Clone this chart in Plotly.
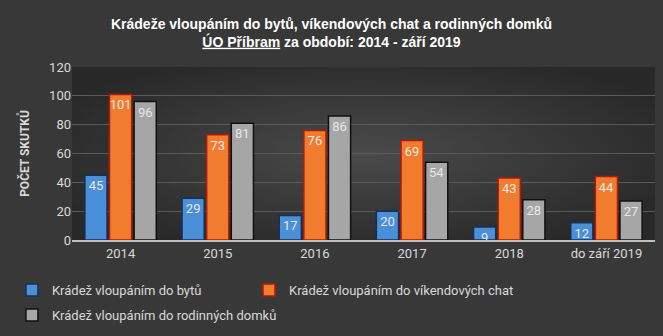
import plotly.graph_objects as go
import base64

categories = ["2014", "2015", "2016", "2017", "2018", "do září 2019"]
byty = [45, 29, 17, 20, 9, 12]
chaty = [101, 73, 76, 69, 43, 44]
domky = [96, 81, 86, 54, 28, 27]
series_names = ["Krádež vloupáním do bytů",
                "Krádež vloupáním do víkendových chat",
                "Krádež vloupáním do rodinných domků"]

svg = ('<svg xmlns="http://www.w3.org/2000/svg" width="663" height="336">'
       '<defs><radialGradient id="g" cx="50%" cy="50%" r="60%">'
       '<stop offset="0%" stop-color="#4a4a4a"/><stop offset="100%" stop-color="#282828"/>'
       '</radialGradient></defs><rect width="663" height="336" fill="url(#g)"/></svg>')
bg = "data:image/svg+xml;base64," + base64.b64encode(svg.encode()).decode()

font = "Roboto, Liberation Sans, sans-serif"
fills = ["#4a8fd8", "#f27c2e", "#a6a6a6"]
borders = ["#1a2f55", "#b01a0a", "#111111"]
legends = ["legend", "legend2", "legend3"]

fig = go.Figure()
for name, vals, fc, bc, lg in zip(series_names, [byty, chaty, domky], fills, borders, legends):
    fig.add_trace(go.Bar(
        x=categories, y=vals, name=name, legend=lg,
        marker=dict(color=fc, line=dict(color=bc, width=1.5)),
        text=[str(v) for v in vals], textposition="inside",
        insidetextanchor="end", textangle=0, constraintext="none",
        textfont=dict(color="#e6e6e6", size=13, family=font),
        cliponaxis=False,
    ))

legend_common = dict(orientation="v", xanchor="left", yanchor="top", traceorder="normal",
                     font=dict(family=font, size=13, color="#d9d9d9"),
                     bgcolor="rgba(0,0,0,0)", itemwidth=30)

fig.update_layout(
    width=663, height=336,
    paper_bgcolor="#383838", plot_bgcolor="rgba(0,0,0,0)",
    images=[dict(source=bg, xref="paper", yref="paper", x=0, y=1, sizex=1, sizey=1,
                 xanchor="left", yanchor="top", sizing="stretch", layer="below")],
    margin=dict(l=72, r=8, t=67, b=95),
    barmode="group", bargap=0.24, bargroupgap=0.1,
    title=dict(text="<b>Krádeže vloupáním do bytů, víkendových chat a rodinných domků</b><br>"
                    "<b><u>ÚO Příbram</u> za období: 2014 - září 2019</b>",
               x=0.5, xanchor="center", y=0.915, yanchor="top",
               font=dict(family="Liberation Sans, sans-serif", size=14, color="#ffffff")),
    yaxis=dict(range=[0, 120], dtick=20, showgrid=True, gridcolor="#5a5a5a", gridwidth=1,
               zeroline=False, tickfont=dict(family=font, size=13, color="#d9d9d9"),
               ticks="", title=dict(text="<b>POČET SKUTKŮ</b>", standoff=16,
                                    font=dict(family=font, size=12, color="#d9d9d9"))),
    xaxis=dict(showline=True, linecolor="#bfbfbf", linewidth=2, ticks="",
               tickfont=dict(family=font, size=13, color="#d9d9d9")),
    legend=dict(x=-0.103, y=-0.195, **legend_common),
    legend2=dict(x=0.3036, y=-0.195, **legend_common),
    legend3=dict(x=-0.103, y=-0.339, **legend_common),
    showlegend=True,
)
fig.write_html("out.html")
